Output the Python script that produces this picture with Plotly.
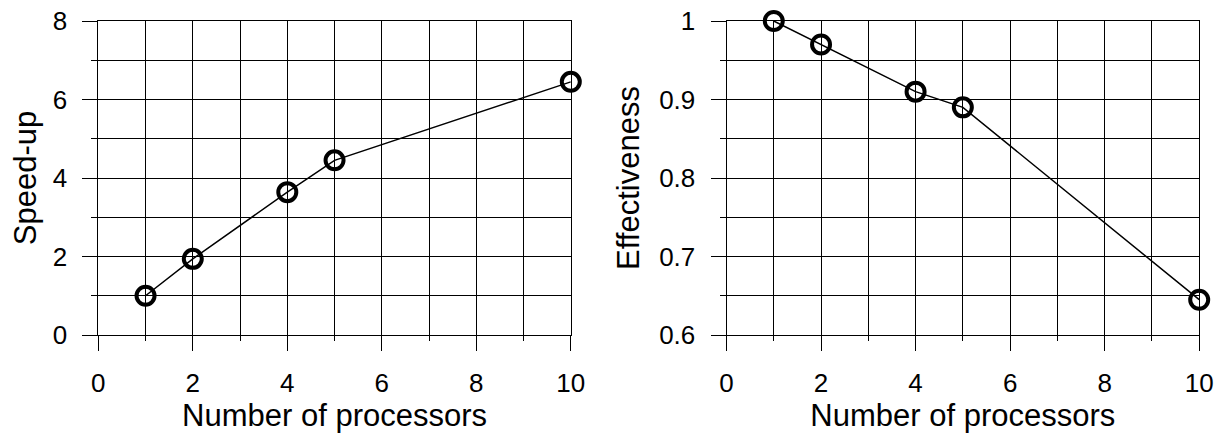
import plotly.graph_objects as go

processors = [1, 2, 4, 5, 10]
speedup = [1.0, 1.94, 3.64, 4.45, 6.45]
effectiveness = [1.0, 0.97, 0.91, 0.89, 0.645]

x_title = "Number of processors"
y_titles = ["Speed-up", "Effectiveness"]

FONT = "Arial, Liberation Sans, sans-serif"
W, H = 1220, 434

fig = go.Figure()
for ys, xa, ya in [(speedup, "x", "y"), (effectiveness, "x2", "y2")]:
    fig.add_trace(go.Scatter(x=processors, y=ys, mode="lines+markers",
                             line=dict(color="black", width=1.5),
                             marker=dict(symbol="circle-open", size=18, color="black",
                                         line=dict(width=4, color="black")),
                             cliponaxis=False, hoverinfo="skip",
                             xaxis=xa, yaxis=ya, showlegend=False))

top, bottom = 21, 335
ydom = [1 - bottom / H, 1 - top / H]
xdom1 = [98.3 / W, 570.8 / W]
xdom2 = [726.5 / W, 1199.2 / W]

def xax(dom, anchor):
    return dict(domain=dom, anchor=anchor, range=[0, 10], dtick=2, tick0=0,
                automargin=False, ticklabeloverflow="allow",
                showgrid=True, gridcolor="black", gridwidth=1,
                zeroline=False, showline=True, mirror=True, linecolor="black", linewidth=1,
                ticks="outside", ticklen=15, tickcolor="black", tickwidth=1,
                ticklabelstandoff=10,
                minor=dict(dtick=1, tick0=0, ticks="outside", ticklen=5, tickcolor="black",
                           showgrid=True, gridcolor="black", gridwidth=1),
                tickfont=dict(family=FONT, size=26, color="black"),
                title=dict(text=x_title, font=dict(family=FONT, size=31, color="black"), standoff=0),
                fixedrange=True)

def yax(dom, anchor, rng, dtick, mdtick, title, standoff):
    return dict(domain=dom, anchor=anchor, range=rng, dtick=dtick, tick0=rng[0],
                automargin=False, ticklabeloverflow="allow",
                showgrid=True, gridcolor="black", gridwidth=1,
                zeroline=False, showline=True, mirror=True, linecolor="black", linewidth=1,
                ticks="outside", ticklen=15, tickcolor="black", tickwidth=1,
                ticklabelstandoff=10,
                minor=dict(dtick=mdtick, tick0=rng[0], ticks="outside", ticklen=6, tickcolor="black",
                           showgrid=True, gridcolor="black", gridwidth=1),
                tickfont=dict(family=FONT, size=26, color="black"),
                title=dict(text=title, font=dict(family=FONT, size=31, color="black"), standoff=standoff),
                fixedrange=True)

fig.update_layout(
    width=W, height=H,
    margin=dict(l=0, r=0, t=0, b=0, pad=0, autoexpand=False),
    paper_bgcolor="white", plot_bgcolor="white",
    xaxis=xax(xdom1, "y"),
    yaxis=yax(ydom, "x", [0, 8], 2, 1, y_titles[0], 6),
    xaxis2=xax(xdom2, "y2"),
    yaxis2=yax(ydom, "x2", [0.6, 1.0], 0.1, 0.05, y_titles[1], 10),
    hovermode=False,
)

fig.write_html("out.html", config={"displayModeBar": False, "staticPlot": True},
               post_script="document.body.style.margin='0px';document.body.style.overflow='hidden';")
